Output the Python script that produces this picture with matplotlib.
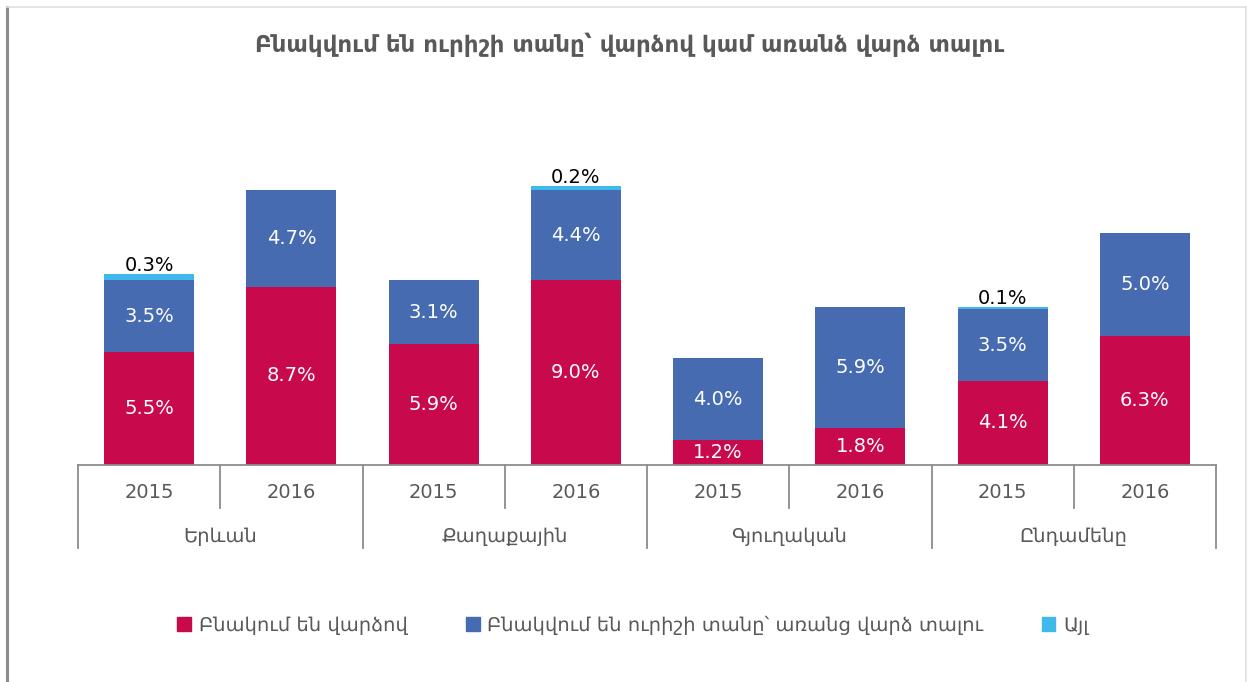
import matplotlib
matplotlib.use("Agg")
import matplotlib.pyplot as plt
from matplotlib.patches import Patch
from matplotlib.lines import Line2D
import numpy as np

plt.rcParams['font.family'] = ['DejaVu Sans']

# data
groups = ["Երևան", "Քաղաքային", "Գյուղական", "Ընդամենը"]
years = ["2015", "2016"]
rent = [5.5, 8.7, 5.9, 9.0, 1.2, 1.8, 4.1, 6.3]
free = [3.5, 4.7, 3.1, 4.4, 4.0, 5.9, 3.5, 5.0]
other = [0.3, 0.0, 0.0, 0.2, 0.0, 0.0, 0.1, 0.0]
series_names = ["Բնակում են վարձով",
                "Բնակվում են ուրիշի տանը՝ առանց վարձ տալու",
                "Այլ"]
title = "Բնակվում են ուրիշի տանը՝ վարձով կամ առանձ վարձ տալու"

c_rent = "#C8094C"
c_free = "#466BB0"
c_other = "#3FB8EC"
grey = "#595959"
line_c = "#8C8C8C"

W, H = 1247, 682
fig = plt.figure(figsize=(W / 100, H / 100), dpi=100)

# outer frame like the original chart box
fig.add_artist(Line2D([6.5 / W, 6.5 / W], [0, 1 - 7 / H], transform=fig.transFigure,
                      color="#8C8C8C", lw=2.2))
fig.add_artist(Line2D([6.5 / W, 1246 / W], [1 - 7 / H, 1 - 7 / H], transform=fig.transFigure,
                      color="#E0E0E0", lw=1.2))
fig.add_artist(Line2D([1246 / W, 1246 / W], [0, 1 - 7 / H], transform=fig.transFigure,
                      color="#E0E0E0", lw=1.2))

left, right, base, top = 78, 1216, 465, 100
ax = fig.add_axes([left / W, 1 - base / H, (right - left) / W, (base - top) / H])

n = len(rent)
x = np.arange(n)
w = 0.633
b1 = ax.bar(x, rent, w, color=c_rent, label=series_names[0])
b2 = ax.bar(x, free, w, bottom=rent, color=c_free, label=series_names[1])
bot3 = [r + f for r, f in zip(rent, free)]
b3 = ax.bar(x, other, w, bottom=bot3, color=c_other, label=series_names[2])

for i in range(n):
    ax.text(x[i], rent[i] / 2, f"{rent[i]:.1f}%", ha="center", va="center",
            color="white", fontsize=14)
    ax.text(x[i], rent[i] + free[i] / 2, f"{free[i]:.1f}%", ha="center", va="center",
            color="white", fontsize=14)
    if other[i] > 0:
        ax.text(x[i], bot3[i] + other[i] - 0.02, f"{other[i]:.1f}%", ha="center",
                va="bottom", color="black", fontsize=14)

ax.set_xlim(-0.5, n - 0.5)
ax.set_ylim(0, 17.8)
for s in ["top", "right", "left", "bottom"]:
    ax.spines[s].set_visible(False)
ax.set_xticks([])
ax.set_yticks([])

# category axis with two levels
tr = ax.get_xaxis_transform()
ax.plot([-0.5, n - 0.5], [0, 0], color=line_c, lw=1.3, transform=tr, clip_on=False)
ph = base - top
y_year = -(508 - base) / ph
y_grp = -(548 - base) / ph
for k in range(n + 1):
    xe = k - 0.5
    yb = y_grp if k % 2 == 0 else y_year
    ax.plot([xe, xe], [0, yb], color=line_c, lw=1.3, transform=tr, clip_on=False)
for i in range(n):
    ax.text(x[i], -(493 - base) / ph, years[i % 2], ha="center", va="center",
            color=grey, fontsize=14, transform=tr)
for g, name in enumerate(groups):
    ax.text(2 * g + 0.5, -(536 - base) / ph, name, ha="center", va="center",
            color=grey, fontsize=14, transform=tr)

fig.text(630 / W, 1 - 45 / H, title, ha="center", va="center", color=grey,
         fontsize=16.5, fontweight="bold")

handles = [Patch(color=c_rent), Patch(color=c_free), Patch(color=c_other)]
fig.legend(handles, series_names, loc="center", bbox_to_anchor=(633 / W, 1 - 625 / H),
           ncol=3, frameon=False, fontsize=14, labelcolor=grey,
           handlelength=0.7, handleheight=0.7, handletextpad=0.4, columnspacing=3.0)

fig.savefig("out.png", dpi=100, facecolor="white")
